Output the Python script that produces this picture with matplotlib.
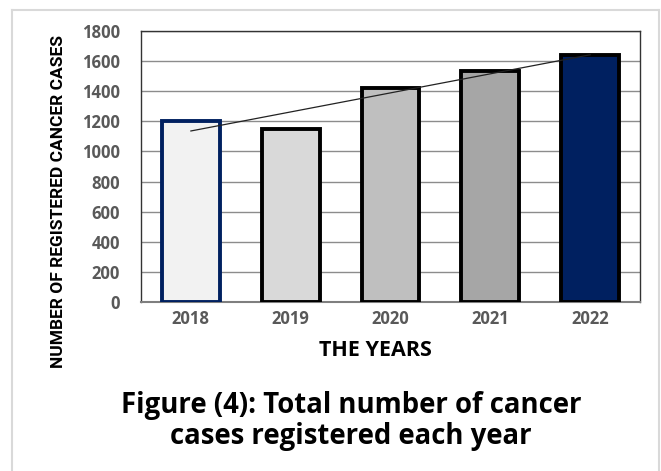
import numpy as np
import matplotlib.pyplot as plt
from matplotlib.lines import Line2D

years = ['2018', '2019', '2020', '2021', '2022']
cases = [1200, 1150, 1420, 1535, 1640]
fills = ['#f2f2f2', '#d9d9d9', '#bfbfbf', '#a6a6a6', '#002060']
edges = ['#002060', 'black', 'black', 'black', 'black']
y_ticks = [0, 200, 400, 600, 800, 1000, 1200, 1400, 1600, 1800]

plt.rcParams['font.family'] = ['Open Sans', 'DejaVu Sans']

fig = plt.figure(figsize=(6.61, 4.71), dpi=100)
ax = fig.add_axes([141/661, 1-302/471, 499/661, 271/471])

x = np.arange(len(years))
ax.bar(x, cases, width=0.58, color=fills, edgecolor=edges, linewidth=2.8, zorder=3)

# linear trend through the yearly totals
k, b = np.polyfit(x, cases, 1)
ax.plot([x[0], x[-1]], [k*x[0]+b, k*x[-1]+b], color='#222222', lw=0.9, zorder=4)

ax.set_xlim(-0.5, len(years)-0.5)
ax.set_ylim(0, 1800)
ax.set_yticks(y_ticks)
ax.yaxis.grid(True, color='#8c8c8c', lw=1.0, zorder=0)
ax.set_xticks(x)
ax.set_xticklabels(years)
ax.tick_params(length=0, labelsize=12, colors='#595959')
ax.tick_params(axis='y', pad=15)
ax.tick_params(axis='x', pad=6)
for t in ax.get_xticklabels() + ax.get_yticklabels():
    t.set_fontweight('bold')
for s in ax.spines.values():
    s.set_color('#333333')
    s.set_linewidth(1.0)
ax.spines['bottom'].set_color('#7f7f7f')
ax.spines['bottom'].set_linewidth(1.5)

fig.text(375/661, 1-350/471, 'THE YEARS', ha='center', va='center',
         fontsize=15.5, fontweight='bold')
fig.text(59/661, 1-201/471, 'NUMBER OF REGISTERED CANCER CASES', rotation=90,
         ha='center', va='center', fontsize=12.5, fontweight='bold',
         family=['Roboto', 'Open Sans'])

fig.text(351/661, 1-421/471, 'Figure (4): Total number of cancer\ncases registered each year',
         ha='center', va='center', fontsize=19.8, fontweight='bold', linespacing=1.12)

# light frame around the figure
fig.add_artist(Line2D([11.5/661, 11.5/661], [0, 1-10/471], color='#d9d9d9', lw=1.5))
fig.add_artist(Line2D([659/661, 659/661], [0, 1-10/471], color='#d9d9d9', lw=1.5))
fig.add_artist(Line2D([11.5/661, 659/661], [1-10/471, 1-10/471], color='#d9d9d9', lw=1.5))

fig.savefig('out.png', dpi=100)
